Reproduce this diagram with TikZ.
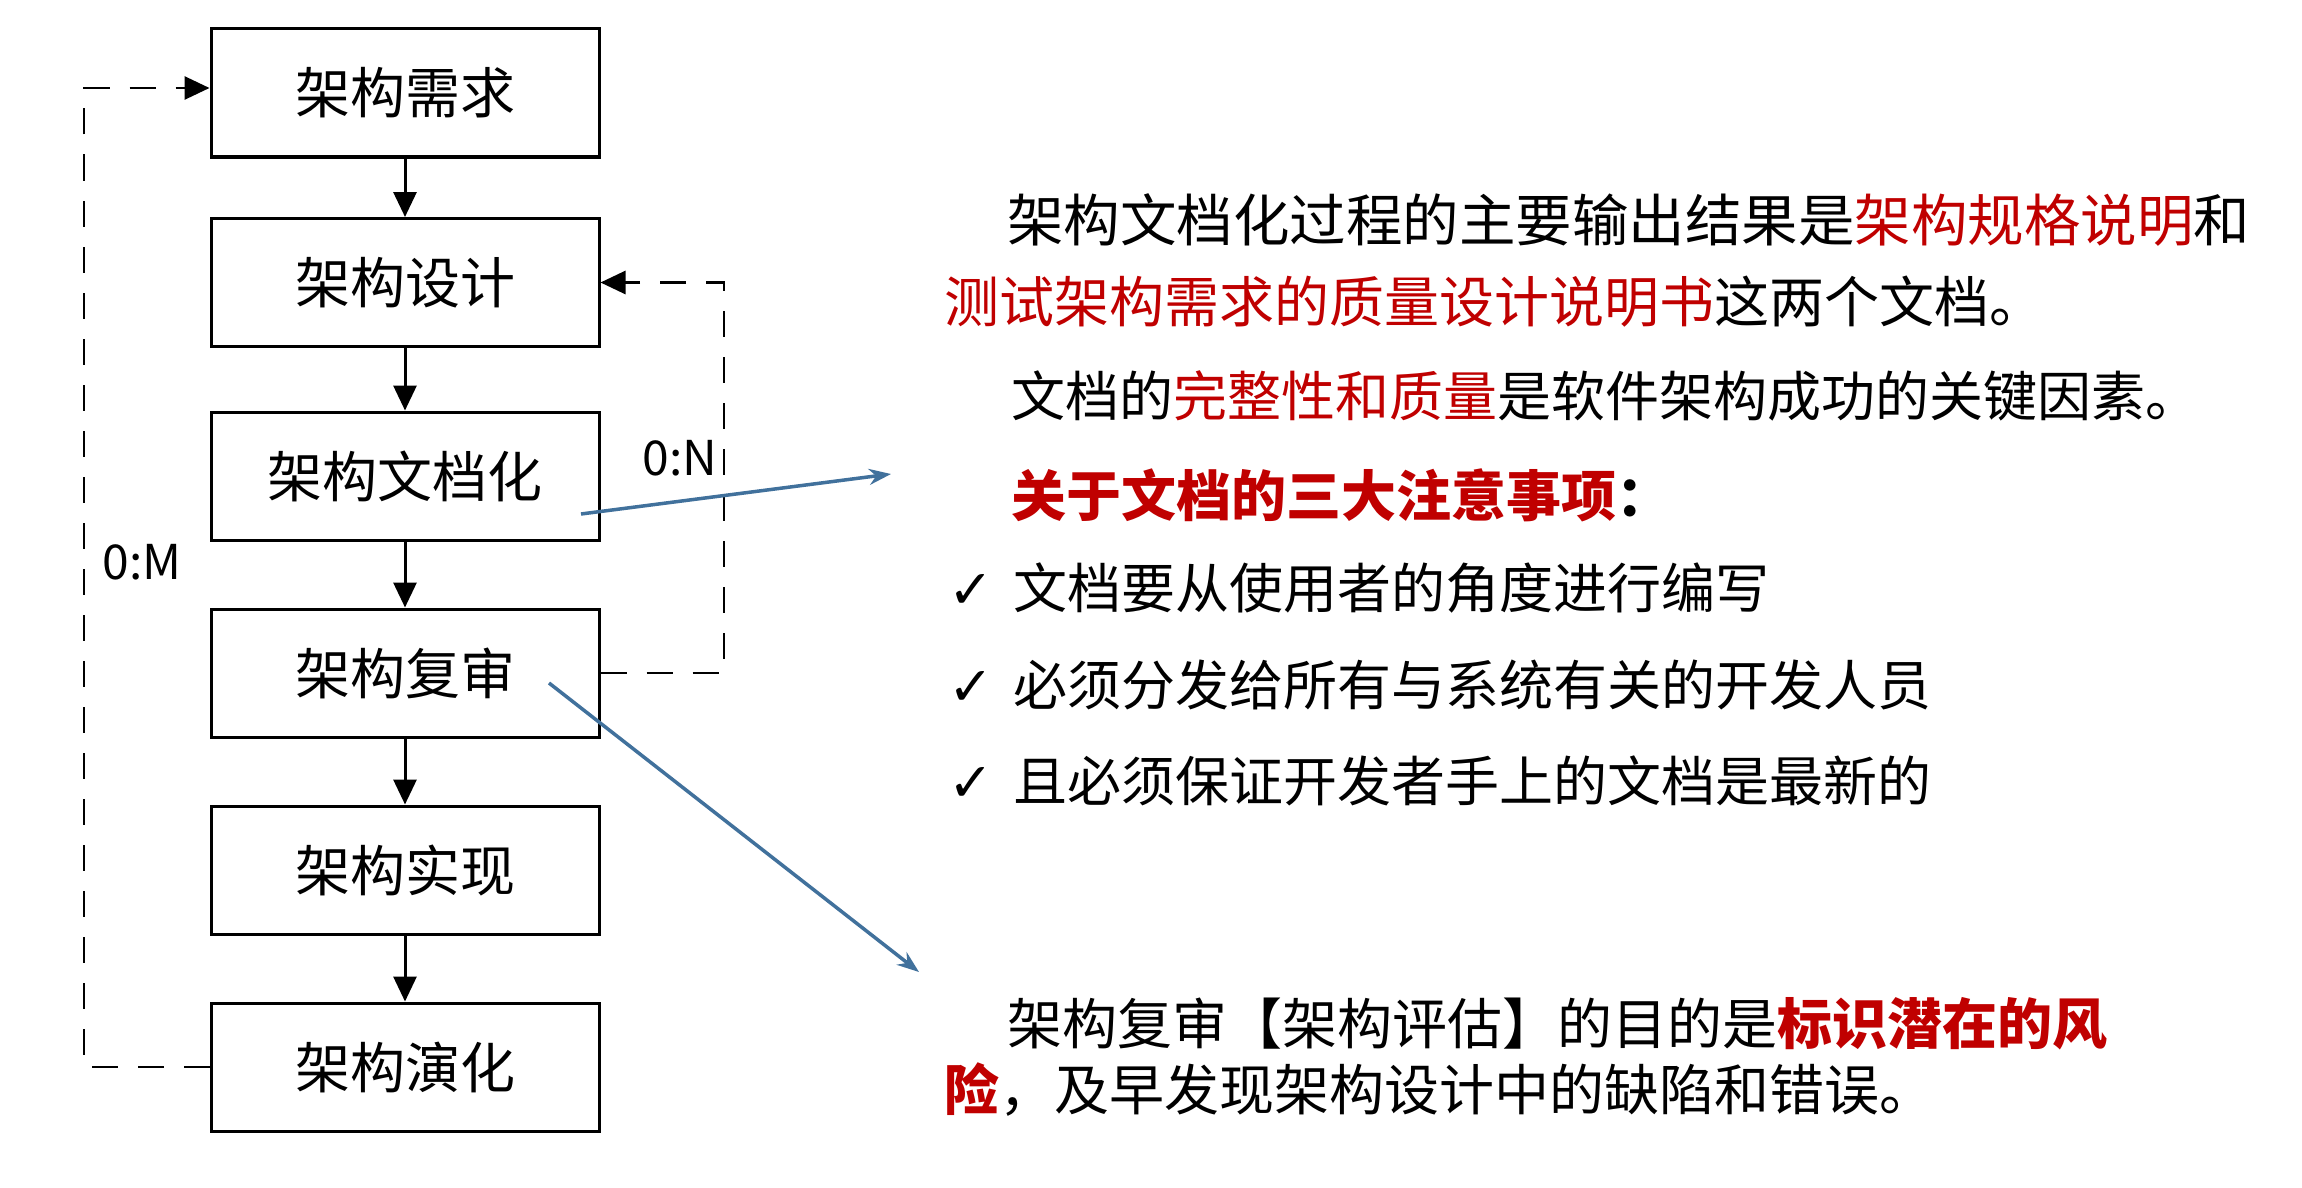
\documentclass[tikz,border=0pt]{standalone}
\usepackage{fontspec}
\setmainfont{Noto Sans CJK SC}
\newfontfamily\symfont{DejaVu Sans}
\usetikzlibrary{arrows.meta}
\definecolor{myred}{RGB}{192,0,0}
\definecolor{myblue}{RGB}{65,113,156}
\begin{document}
\begin{tikzpicture}[x=1pt,y=-1pt,
  stage/.style={draw, line width=3pt, minimum width=388pt, minimum height=128pt, inner sep=0pt, font=\fontsize{55}{60}\selectfont},
  flow/.style={line width=3pt, -{Triangle[length=25pt,width=23pt]}},
  loopline/.style={line width=2.8pt, dash pattern=on 26pt off 20pt},
  link/.style={line width=3.5pt, myblue, -{Stealth[length=22pt,width=16pt]}},
  txt/.style={anchor=base west, inner sep=0pt, font=\fontsize{55}{60}\selectfont},
  txts/.style={anchor=base west, inner sep=0pt, font=\fontsize{54}{60}\selectfont},
  chk/.style={anchor=base west, inner sep=0pt, font=\symfont\fontsize{54}{58}\selectfont},
  lbl/.style={inner sep=0pt, font=\fontsize{48}{52}\selectfont}]
\useasboundingbox[fill=white] (0,0) rectangle (2302,1188);

% stages
\node[stage] (b1) at (405,93) {架构需求};
\node[stage] (b2) at (405,282.5) {架构设计};
\node[stage] (b3) at (405,476) {架构文档化};
\node[stage] (b4) at (405,673) {架构复审};
\node[stage] (b5) at (405,870) {架构实现};
\node[stage] (b6) at (405,1067) {架构演化};

\draw[flow] (b1) -- (b2);
\draw[flow] (b2) -- (b3);
\draw[flow] (b3) -- (b4);
\draw[flow] (b4) -- (b5);
\draw[flow] (b5) -- (b6);

% feedback loops
\coordinate (ml) at (84,88);
\draw[loopline, -{Triangle[length=25pt,width=23pt]}] (b6.west) -| (ml) -- (ml -| b1.west);
\coordinate (mr) at (724,282.5);
\draw[loopline, -{Triangle[length=25pt,width=23pt]}] (b4.east) -| (mr) -- (b2.east);
\node[lbl] (lm) at (142,562) {0:M};
\node[lbl] (ln) at (680,458) {0:N};

% blue pointers
\coordinate (s1) at (581,514);
\coordinate (e1) at (891,474);
\draw[link] (s1) -- (e1);
\coordinate (s2) at (549,683);
\coordinate (e2) at (919,972);
\draw[link] (s2) -- (e2);

% right texts
\node[txt, font=\fontsize{56.5}{60}\selectfont] (p1a) at (1007,241) {架构文档化过程的主要输出结果是\textcolor{myred}{架构规格说明}和};
\node[txt] (p1b) at (944,322) {\textcolor{myred}{测试架构需求的质量设计说明书}这两个文档。};
\node[txts] (p2) at (1011,416) {文档的\textcolor{myred}{完整性和质量}是软件架构成功的关键因素。};
\node[txt] (hd) at (1011,516) {\bfseries\textcolor{myred}{关于文档的三大注意事项}：};
\node[chk] (c1) at (948,608) {✓};
\node[txts] (t1) at (1013,608) {文档要从使用者的角度进行编写};
\node[chk] (c2) at (948,705) {✓};
\node[txts] (t2) at (1013,705) {必须分发给所有与系统有关的开发人员};
\node[chk] (c3) at (948,801) {✓};
\node[txts] (t3) at (1013,801) {且必须保证开发者手上的文档是最新的};
\node[txt] (p3a) at (1007,1044) {架构复审【架构评估】的目的是\textcolor{myred}{\bfseries 标识潜在的风}};
\node[txt] (p3b) at (944,1110) {\textcolor{myred}{\bfseries 险}，及早发现架构设计中的缺陷和错误。};
\end{tikzpicture}
\end{document}
